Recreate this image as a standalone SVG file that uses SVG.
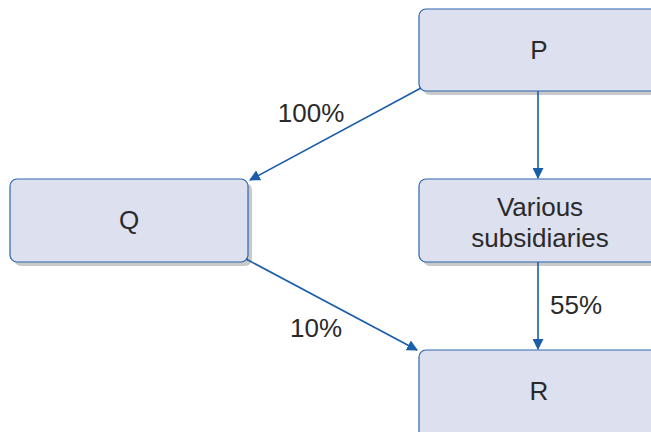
<svg xmlns="http://www.w3.org/2000/svg" width="651" height="432" viewBox="0 0 651 432">
<style>
.box{fill:#dde0ef;stroke:#2d67ad;stroke-width:1.2}
.sh{fill:#c9c9c9}
.t{font-family:"Liberation Sans",Arial,sans-serif;font-size:26px;fill:#2a2a2a;text-anchor:middle}
.c{stroke:#1a5ea8;stroke-width:1.6;fill:none;marker-end:url(#ah)}
</style>
<defs>
<marker id="ah" viewBox="0 0 10 10" refX="9" refY="5" markerWidth="11" markerHeight="11" markerUnits="userSpaceOnUse" orient="auto">
<path d="M0,0 L10,5 L0,10 z" fill="#1a5ea8"/>
</marker>
</defs>
<rect width="651" height="432" fill="#fff"/>
<g id="P">
<rect class="sh" x="423" y="13" width="260" height="82" rx="7"/>
<rect class="box" x="419" y="9" width="260" height="82" rx="7"/>
<text class="t" x="539" y="59">P</text>
</g>
<g id="Q">
<rect class="sh" x="14" y="183" width="238" height="83" rx="7"/>
<rect class="box" x="10" y="179" width="238" height="83" rx="7"/>
<text class="t" x="129" y="229">Q</text>
</g>
<g id="S">
<rect class="sh" x="423" y="183" width="260" height="83" rx="7"/>
<rect class="box" x="419" y="179" width="260" height="83" rx="7"/>
<text class="t" x="540" y="216">Various</text>
<text class="t" x="540" y="247">subsidiaries</text>
</g>
<g id="R">
<rect class="sh" x="423" y="354" width="260" height="90" rx="7"/>
<rect class="box" x="419" y="350" width="260" height="90" rx="7"/>
<text class="t" x="539" y="400">R</text>
</g>
<g id="connectors">
<line class="c" x1="421" y1="88" x2="250" y2="180"/>
<line class="c" x1="246" y1="259" x2="417" y2="350"/>
<line class="c" x1="538" y1="91" x2="538" y2="178"/>
<line class="c" x1="538" y1="262" x2="538" y2="349"/>
<text class="t" x="311" y="122">100%</text>
<text class="t" x="316" y="337">10%</text>
<text class="t" x="576" y="314">55%</text>
</g>
</svg>
